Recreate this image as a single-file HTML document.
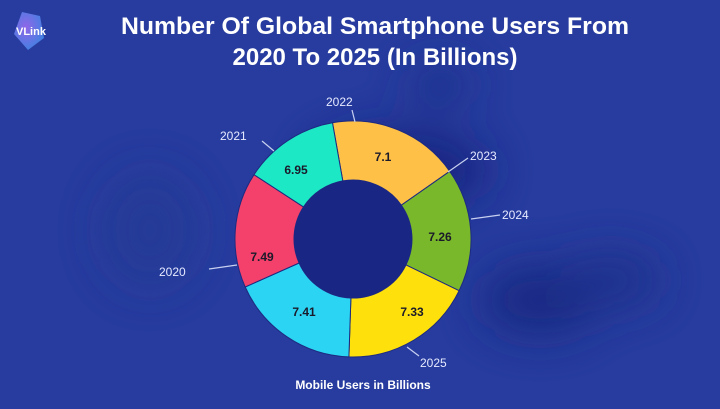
<!DOCTYPE html>
<html><head><meta charset="utf-8"><style>
html,body{margin:0;padding:0}
body{width:720px;height:404px;overflow:hidden;background:#273c9e;font-family:"Liberation Sans",sans-serif}
</style></head><body>
<svg width="720" height="404" viewBox="0 0 720 404" xmlns="http://www.w3.org/2000/svg">
<defs>
<filter id="b" x="-50%" y="-50%" width="200%" height="200%"><feGaussianBlur stdDeviation="22"/></filter>
<radialGradient id="lg" cx="0.4" cy="0.4" r="0.7"><stop offset="0" stop-color="#9b6bf0"/><stop offset="1" stop-color="#3b8be8"/></radialGradient>
</defs>
<rect width="720" height="404" fill="#273c9e"/>
<g filter="url(#b)" opacity="0.85">
<ellipse cx="400" cy="170" rx="90" ry="40" fill="#14237e"/>
<ellipse cx="540" cy="300" rx="60" ry="35" fill="#17277f"/>
<ellipse cx="610" cy="280" rx="50" ry="25" fill="#1b2d88"/>
<ellipse cx="150" cy="230" rx="50" ry="60" fill="#22368f" opacity="0.5"/>
<ellipse cx="440" cy="85" rx="30" ry="20" fill="#1c2e8a"/>
</g>
<path d="M22 12 L40 16 L44 38 L28 50 L14 34 Z" fill="url(#lg)" opacity="0.9"/>
<text x="16" y="35" font-size="11" font-weight="bold" fill="#fff">VLink</text>
<text x="375" y="34" text-anchor="middle" font-size="24" font-weight="bold" fill="#fff" textLength="508" lengthAdjust="spacingAndGlyphs">Number Of Global Smartphone Users From</text>
<text x="375" y="65" text-anchor="middle" font-size="24" font-weight="bold" fill="#fff">2020 To 2025 (In Billions)</text>
<g stroke="#1d2a80" stroke-width="1">
<path d="M332.5 122.8 A118 118 0 0 1 449.7 171.3 L401.3 205.2 A59 59 0 0 0 342.8 180.9 Z" fill="#fec046"/>
<path d="M449.7 171.3 A118 118 0 0 1 459.1 290.7 L406.0 264.9 A59 59 0 0 0 401.3 205.2 Z" fill="#7ab82b"/>
<path d="M459.1 290.7 A118 118 0 0 1 348.9 356.9 L350.9 298.0 A59 59 0 0 0 406.0 264.9 Z" fill="#fde00c"/>
<path d="M348.9 356.9 A118 118 0 0 1 245.2 287.0 L299.1 263.0 A59 59 0 0 0 350.9 298.0 Z" fill="#2cd4f4"/>
<path d="M245.2 287.0 A118 118 0 0 1 254.0 174.7 L303.5 206.9 A59 59 0 0 0 299.1 263.0 Z" fill="#f4416b"/>
<path d="M254.0 174.7 A118 118 0 0 1 332.5 122.8 L342.8 180.9 A59 59 0 0 0 303.5 206.9 Z" fill="#1de8c6"/>
</g>
<circle cx="353" cy="239" r="59" fill="#1a2684"/>
<g font-size="12" font-weight="bold" text-anchor="middle" fill="#1a1a2a">
<text x="296" y="174">6.95</text>
<text x="383" y="161">7.1</text>
<text x="440" y="241">7.26</text>
<text x="412" y="316">7.33</text>
<text x="304" y="316">7.41</text>
<text x="262" y="261">7.49</text>
</g>
<g stroke="#c8d0f0" stroke-width="1.2">
<line x1="352" y1="110" x2="355" y2="122"/>
<line x1="262" y1="141" x2="274" y2="151"/>
<line x1="448" y1="172" x2="468" y2="158"/>
<line x1="471" y1="219" x2="500" y2="215"/>
<line x1="209" y1="269" x2="237" y2="265"/>
<line x1="407" y1="347" x2="419" y2="356"/>
</g>
<g font-size="12" fill="#e6eaff">
<text x="326" y="106">2022</text>
<text x="220" y="140">2021</text>
<text x="470" y="160">2023</text>
<text x="502" y="219">2024</text>
<text x="159" y="276">2020</text>
<text x="420" y="367">2025</text>
</g>
<text x="363" y="389" text-anchor="middle" font-size="12" font-weight="bold" fill="#fff">Mobile Users in Billions</text>
</svg>
</body></html>
